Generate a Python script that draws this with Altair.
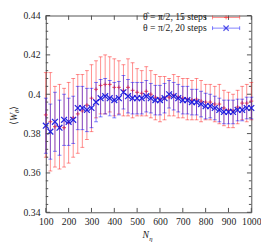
import altair as alt
import pandas as pd

# ---------------- data ----------------
N = list(range(100, 1001, 20))

red_mean = [0.3895, 0.386, 0.3835, 0.3835, 0.383, 0.3855, 0.388, 0.390, 0.3915, 0.3945,
            0.398, 0.4025, 0.4045, 0.405, 0.405, 0.4035, 0.4035, 0.402, 0.4035, 0.402,
            0.401, 0.4005, 0.4015, 0.400, 0.3985, 0.3975, 0.398, 0.3985, 0.3995, 0.3985,
            0.398, 0.3975, 0.397, 0.3975, 0.3965, 0.396, 0.396, 0.395, 0.395, 0.393,
            0.392, 0.3915, 0.3935, 0.3955, 0.3955, 0.3965]
red_err = [0.0215, 0.025, 0.0205, 0.0215, 0.020, 0.0205, 0.020, 0.020, 0.0185, 0.0175,
           0.017, 0.0145, 0.0145, 0.015, 0.014, 0.0145, 0.0135, 0.013, 0.0145, 0.014,
           0.012, 0.0115, 0.0125, 0.012, 0.0115, 0.0115, 0.011, 0.0095, 0.0105, 0.0105,
           0.010, 0.0105, 0.010, 0.0105, 0.0105, 0.009, 0.009, 0.009, 0.010, 0.009,
           0.009, 0.0085, 0.0085, 0.0085, 0.0095, 0.0095]

blue_mean = [0.384, 0.381, 0.386, 0.383, 0.387, 0.386, 0.387, 0.393, 0.393, 0.392,
             0.393, 0.396, 0.398, 0.399, 0.398, 0.397, 0.398, 0.401, 0.399, 0.398,
             0.398, 0.398, 0.399, 0.398, 0.397, 0.397, 0.398, 0.400, 0.399, 0.398,
             0.397, 0.397, 0.396, 0.396, 0.395, 0.394, 0.394, 0.393, 0.392, 0.391,
             0.391, 0.391, 0.392, 0.392, 0.393, 0.393]
blue_err = [0.014, 0.014, 0.015, 0.014, 0.013, 0.012, 0.012, 0.011, 0.011, 0.011,
            0.010, 0.010, 0.0095, 0.009, 0.009, 0.009, 0.0085, 0.0085, 0.0085, 0.008,
            0.008, 0.008, 0.008, 0.0075, 0.0075, 0.0075, 0.0075, 0.007, 0.007, 0.007,
            0.007, 0.007, 0.0065, 0.0065, 0.0065, 0.0065, 0.006, 0.006, 0.006, 0.006,
            0.006, 0.006, 0.0055, 0.0055, 0.0055, 0.0055]

x_ticks = [100, 200, 300, 400, 500, 600, 700, 800, 900, 1000]
y_ticks = [0.34, 0.36, 0.38, 0.40, 0.42, 0.44]
y_minor = [round(0.34 + 0.004 * i, 3) for i in range(26) if i % 5 != 0]

labels = ["θ̂ = π/2, 15 steps", "θ = π/2, 20 steps"]

# ---------------- style ----------------
W, H = 212, 203
RED = "#ff0000"
BLUE = "#0000ff"
FRAME = "#505050"
FONT = "Liberation Serif"
X_PATH = "M-1,-1L1,1M-1,1L1,-1"
P_PATH = "M-1,0L1,0M0,-1L0,1"

df = pd.DataFrame({"N": N, "rm": red_mean, "re": red_err, "bm": blue_mean, "be": blue_err})
df["rlo"] = df["rm"] - df["re"]
df["rhi"] = df["rm"] + df["re"]
df["blo"] = df["bm"] - df["be"]
df["bhi"] = df["bm"] + df["be"]

xs = alt.Scale(domain=[100, 1000], nice=False, zero=False)
ys = alt.Scale(domain=[0.34, 0.44], nice=False, zero=False)
xaxis = alt.Axis(values=x_ticks, format="d", title=None, ticks=False, tickSize=0,
                 domain=False, grid=False, labelPadding=5, labelFont=FONT,
                 labelFontSize=10, labelColor="#222", labelOverlap=False,
                 labelFlush=False)
yaxis = alt.Axis(values=y_ticks, format="~g", title=None, ticks=False, tickSize=0,
                 domain=False, grid=False, labelPadding=6, labelFont=FONT,
                 labelFontSize=10, labelColor="#222", labelOverlap=False,
                 labelFlush=False)


def X(f="N"):
    return alt.X(f"{f}:Q", scale=xs, axis=xaxis)


def Y(f):
    return alt.Y(f"{f}:Q", scale=ys, axis=yaxis)


base = alt.Chart(df)

def series(m, lo, hi, color, op, path, psize, pcolor, sw):
    bars = base.mark_rule(color=color, opacity=op, strokeWidth=1).encode(
        x=X(), y=Y(lo), y2=f"{hi}:Q")
    cap1 = base.mark_tick(orient="horizontal", size=4, thickness=1, color=color,
                          opacity=op).encode(x=X(), y=Y(lo))
    cap2 = base.mark_tick(orient="horizontal", size=4, thickness=1, color=color,
                          opacity=op).encode(x=X(), y=Y(hi))
    pts = base.mark_point(shape=path, size=psize, filled=False, strokeWidth=sw,
                          color=pcolor, opacity=0.9).encode(x=X(), y=Y(m))
    return [bars, cap1, cap2, pts]


layers = []
layers += series("rm", "rlo", "rhi", RED, 0.45, P_PATH, 16, "#ff3030", 1)
layers += series("bm", "blo", "bhi", BLUE, 0.5, X_PATH, 36, "#1010e0", 1.3)

# inward frame ticks
ymaj = pd.DataFrame({"v": y_ticks})
ymin = pd.DataFrame({"v": y_minor})
xmaj = pd.DataFrame({"v": x_ticks})
for d, L in ((ymaj, 4.5), (ymin, 2.5)):
    layers.append(alt.Chart(d).mark_rule(color=FRAME, strokeWidth=1).encode(
        y=Y("v"), x=alt.value(0), x2=alt.value(L)))
    layers.append(alt.Chart(d).mark_rule(color=FRAME, strokeWidth=1).encode(
        y=Y("v"), x=alt.value(W), x2=alt.value(W - L)))
layers.append(alt.Chart(xmaj).mark_rule(color=FRAME, strokeWidth=1).encode(
    x=X("v"), y=alt.value(0), y2=alt.value(4.5)))
layers.append(alt.Chart(xmaj).mark_rule(color=FRAME, strokeWidth=1).encode(
    x=X("v"), y=alt.value(H), y2=alt.value(H - 4.5)))

# legend (gnuplot style, inside top right)
one = pd.DataFrame({"a": [0]})
for i, (lab, col, op, path, psize, pcol, sw) in enumerate(
        [(labels[0], RED, 0.45, P_PATH, 16, "#ff3030", 1),
         (labels[1], BLUE, 0.5, X_PATH, 30, "#1010e0", 1.2)]):
    yy = 2 + 11 * i
    c = alt.Chart(one)
    layers.append(c.mark_text(align="right", baseline="middle", font=FONT, fontSize=10,
                              color="#222").encode(x=alt.value(166), y=alt.value(yy),
                                                   text=alt.value(lab)))
    layers.append(c.mark_rule(color=col, opacity=op).encode(
        x=alt.value(172), x2=alt.value(200), y=alt.value(yy)))
    for xx in (172, 200):
        layers.append(c.mark_rule(color=col, opacity=op).encode(
            x=alt.value(xx), y=alt.value(yy - 2), y2=alt.value(yy + 2)))
    layers.append(c.mark_point(shape=path, size=psize, filled=False, strokeWidth=sw,
                               color=pcol).encode(x=alt.value(186), y=alt.value(yy)))

# axis titles
c = alt.Chart(one)
tx = -29.5
for txt, yy, dx, fs, sty in [("⟨", 112.8, 0, 10, "normal"),
                             ("W", 108.9, 0, 10, "italic"),
                             ("θ", 100.6, 2, 7, "italic"),
                             ("⟩", 97.1, 0, 10, "normal")]:
    layers.append(c.mark_text(align="left", baseline="alphabetic", angle=270, font=FONT,
                              fontSize=fs, fontStyle=sty, color="#222").encode(
        x=alt.value(tx + dx), y=alt.value(yy), text=alt.value(txt)))
layers.append(c.mark_text(align="left", baseline="alphabetic", font=FONT, fontSize=10,
                          fontStyle="italic", color="#222").encode(
    x=alt.value(99.7), y=alt.value(230), text=alt.value("N")))
layers.append(c.mark_text(align="left", baseline="alphabetic", font=FONT, fontSize=7,
                          fontStyle="italic", color="#222").encode(
    x=alt.value(106.8), y=alt.value(232.3), text=alt.value("η")))

chart = alt.layer(*layers).properties(
    width=W, height=H,
    autosize=alt.AutoSizeParams(type="none"),
    padding={"left": 39, "top": 4, "right": 10, "bottom": 31},
).configure_view(stroke=FRAME, strokeWidth=1)

chart.save("out.html", embed_options={"renderer": "svg", "actions": False})
